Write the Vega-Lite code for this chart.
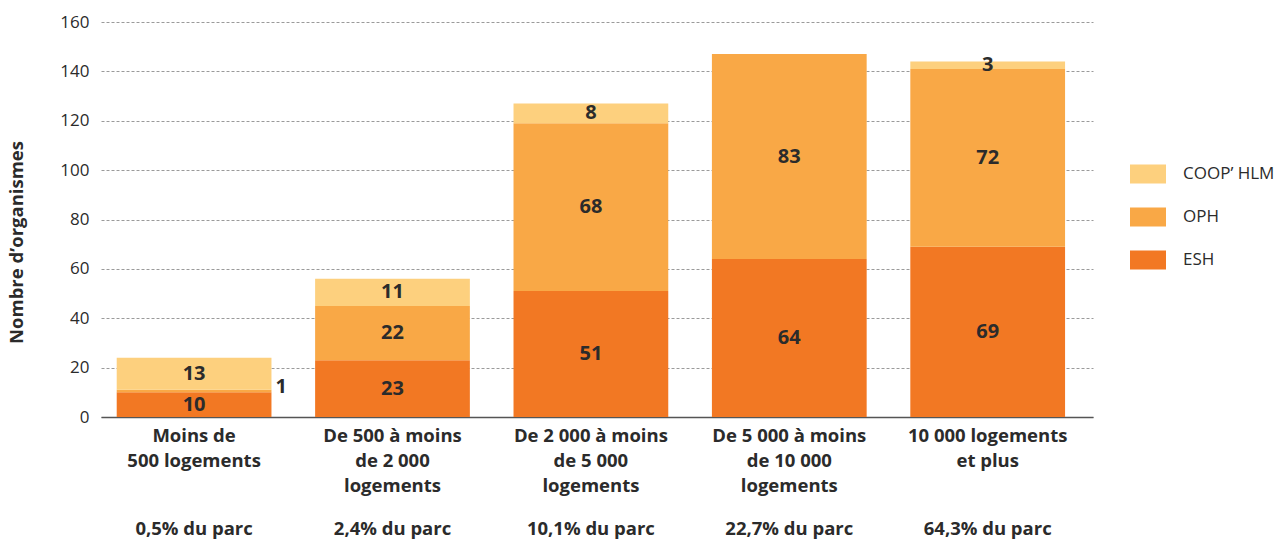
{
  "$schema": "https://vega.github.io/schema/vega-lite/v6.json",
  "width": 992,
  "height": 395,
  "padding": {"left": 7, "top": 13, "right": 5, "bottom": 5},
  "background": "white",
  "config": {
    "font": "Open Sans",
    "view": {"stroke": null},
    "axis": {"labelColor": "#2b2b2b", "titleColor": "#2b2b2b"}
  },
  "data": {
    "values": [
      {"tranche": "Moins de|500 logements|0,5% du parc", "type": "ESH", "rang": 1, "valeur": 10},
      {"tranche": "Moins de|500 logements|0,5% du parc", "type": "OPH", "rang": 2, "valeur": 1},
      {"tranche": "Moins de|500 logements|0,5% du parc", "type": "COOP’ HLM", "rang": 3, "valeur": 13},
      {"tranche": "De 500 à moins|de 2 000|logements|2,4% du parc", "type": "ESH", "rang": 1, "valeur": 23},
      {"tranche": "De 500 à moins|de 2 000|logements|2,4% du parc", "type": "OPH", "rang": 2, "valeur": 22},
      {"tranche": "De 500 à moins|de 2 000|logements|2,4% du parc", "type": "COOP’ HLM", "rang": 3, "valeur": 11},
      {"tranche": "De 2 000 à moins|de 5 000|logements|10,1% du parc", "type": "ESH", "rang": 1, "valeur": 51},
      {"tranche": "De 2 000 à moins|de 5 000|logements|10,1% du parc", "type": "OPH", "rang": 2, "valeur": 68},
      {"tranche": "De 2 000 à moins|de 5 000|logements|10,1% du parc", "type": "COOP’ HLM", "rang": 3, "valeur": 8},
      {"tranche": "De 5 000 à moins|de 10 000|logements|22,7% du parc", "type": "ESH", "rang": 1, "valeur": 64},
      {"tranche": "De 5 000 à moins|de 10 000|logements|22,7% du parc", "type": "OPH", "rang": 2, "valeur": 83},
      {"tranche": "10 000 logements|et plus|64,3% du parc", "type": "ESH", "rang": 1, "valeur": 69},
      {"tranche": "10 000 logements|et plus|64,3% du parc", "type": "OPH", "rang": 2, "valeur": 72},
      {"tranche": "10 000 logements|et plus|64,3% du parc", "type": "COOP’ HLM", "rang": 3, "valeur": 3}
    ]
  },
  "transform": [
    {"stack": "valeur", "groupby": ["tranche"], "sort": [{"field": "rang", "order": "ascending"}], "as": ["y0", "y1"]},
    {"calculate": "(datum.y0 + datum.y1) / 2", "as": "milieu"}
  ],
  "encoding": {
    "x": {
      "field": "tranche",
      "type": "nominal",
      "sort": null,
      "scale": {"paddingInner": 0.22, "paddingOuter": 0.11, "align": 0.36}
    }
  },
  "layer": [
    {
      "mark": {"type": "bar"},
      "encoding": {
        "x": {
          "field": "tranche",
          "type": "nominal",
          "sort": null,
          "title": null,
          "axis": {
            "labelExpr": "slice(split(datum.label, '|'), 0, -1)",
            "labelAngle": 0,
            "labelFontSize": 18.5,
            "labelFontWeight": "bold",
            "labelLineHeight": 25,
            "labelPadding": 9,
            "labelBaseline": "top",
            "ticks": false,
            "domainColor": "#555555",
            "domainWidth": 1.5,
            "labelLimit": 250
          }
        },
        "y": {
          "field": "y0",
          "type": "quantitative",
          "scale": {"domain": [0, 160]},
          "title": "Nombre d’organismes",
          "axis": {
            "values": [0, 20, 40, 60, 80, 100, 120, 140, 160],
            "domain": false,
            "ticks": false,
            "labelFontSize": 17,
            "labelPadding": 12,
            "gridColor": "#9a9a9a",
            "gridDash": [3, 2],
            "gridWidth": 1,
            "titleFontSize": 18.5,
            "titleFontWeight": "bold",
            "titleX": -85,
            "titleY": 220,
            "titleBaseline": "middle",
            "titleAlign": "center"
          }
        },
        "y2": {"field": "y1"},
        "color": {
          "field": "type",
          "type": "nominal",
          "scale": {
            "domain": ["COOP’ HLM", "OPH", "ESH"],
            "range": ["#FDD07E", "#F9A846", "#F27823"]
          },
          "legend": {
            "title": null,
            "values": ["COOP’ HLM", "OPH", "ESH"],
            "symbolType": "M-1,-0.53H1V0.53H-1Z",
            "symbolSize": 1296,
            "symbolStrokeWidth": 0,
            "symbolOpacity": 1,
            "labelFontSize": 17,
            "labelColor": "#2b2b2b",
            "labelOffset": 17,
            "rowPadding": 15,
            "orient": "none",
            "legendX": 1029,
            "legendY": 134,
            "padding": 0
          }
        }
      }
    },
    {
      "transform": [{"filter": "datum.valeur > 1"}],
      "mark": {"type": "text", "fontSize": 20, "fontWeight": "bold", "color": "#2b2b2b", "baseline": "middle"},
      "encoding": {
        "x": {
          "field": "tranche",
          "type": "nominal",
          "sort": null,
          "title": null,
          "axis": {
            "orient": "bottom",
            "labelExpr": "peek(split(datum.label, '|'))",
            "labelAngle": 0,
            "labelFontSize": 18.5,
            "labelFontWeight": "bold",
            "labelPadding": 0,
            "labelBaseline": "top",
            "ticks": false,
            "domain": false,
            "offset": 102,
            "labelLimit": 250
          }
        },
        "y": {"field": "milieu", "type": "quantitative"},
        "text": {"field": "valeur", "type": "quantitative"}
      }
    },
    {
      "transform": [{"filter": "datum.valeur <= 1"}],
      "mark": {"type": "text", "fontSize": 20, "fontWeight": "bold", "color": "#2b2b2b", "baseline": "middle", "align": "left", "dx": 4, "dy": -4},
      "encoding": {
        "x": {"field": "tranche", "type": "nominal", "sort": null, "bandPosition": 1, "axis": null},
        "y": {"field": "milieu", "type": "quantitative"},
        "text": {"field": "valeur", "type": "quantitative"}
      }
    }
  ],
  "resolve": {"axis": {"x": "independent"}}
}
